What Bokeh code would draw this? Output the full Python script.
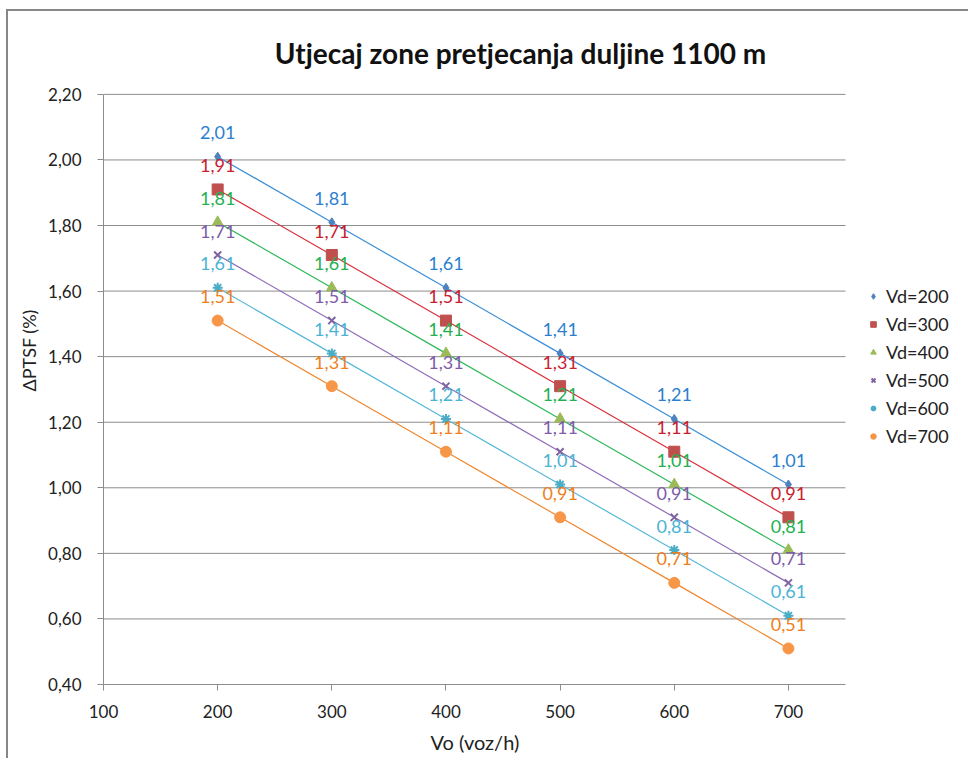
from bokeh.plotting import figure
from bokeh.models import (ColumnDataSource, Legend, LegendItem, FixedTicker, Label, Title)
from bokeh.core.properties import value
from bokeh.embed import file_html
from bokeh.resources import INLINE

# ---- data ----
vo = [200, 300, 400, 500, 600, 700]
series_names = ["Vd=200", "Vd=300", "Vd=400", "Vd=500", "Vd=600", "Vd=700"]
vd200 = [2.01, 1.81, 1.61, 1.41, 1.21, 1.01]
vd300 = [1.91, 1.71, 1.51, 1.31, 1.11, 0.91]
vd400 = [1.81, 1.61, 1.41, 1.21, 1.01, 0.81]
vd500 = [1.71, 1.51, 1.31, 1.11, 0.91, 0.71]
vd600 = [1.61, 1.41, 1.21, 1.01, 0.81, 0.61]
vd700 = [1.51, 1.31, 1.11, 0.91, 0.71, 0.51]
y_ticks = [0.4, 0.6, 0.8, 1.0, 1.2, 1.4, 1.6, 1.8, 2.0, 2.2]
y_tick_labels = ["0,40", "0,60", "0,80", "1,00", "1,20", "1,40", "1,60", "1,80", "2,00", "2,20"]
x_ticks = [100, 200, 300, 400, 500, 600, 700]
x_min, x_max = 100, 750
y_min, y_max = 0.4, 2.2

all_series = [vd200, vd300, vd400, vd500, vd600, vd700]
marker_colors = ["#4F81BD", "#C0504D", "#9BBB59", "#8064A2", "#4BACC6", "#F79646"]
line_colors = ["#3A8ED8", "#D9303C", "#2DB85A", "#8E6CB8", "#55B9D6", "#F0862E"]
label_colors = ["#2C7FD0", "#C8202E", "#22B050", "#7E5CA8", "#4AB4D4", "#EE7F22"]
markers = ["diamond", "square", "triangle", "x", "asterisk", "circle"]
sizes = [9, 11, 11, 10, 10, 11]

FONT = "Lato"

# ---- layout (pixels) ----
OX, OY = 8, 11                      # canvas origin on the page (after chart border)
W, H = 970 - OX, 760 - OY
PLOT_L, PLOT_R, PLOT_T, PLOT_B = 103 - OX, 845 - OX, 94 - OY, 685 - OY
px_x = (x_max - x_min) / (PLOT_R - PLOT_L)
px_y = (y_max - y_min) / (PLOT_B - PLOT_T)
x_end = x_max + (W - PLOT_R) * px_x
y_end = y_max + PLOT_T * px_y

def dx(px):
    return x_min + (px - OX - PLOT_L) * px_x

def dy(py):
    return y_max + (PLOT_T - (py - OY)) * px_y

p = figure(width=W, height=H, output_backend="svg", toolbar_location=None,
           x_range=(x_min, x_end), y_range=(y_min, y_end),
           min_border_left=PLOT_L, min_border_right=0, min_border_top=0,
           min_border_bottom=H - PLOT_B)
p.styles = {"margin-left": f"{OX - 2}px", "margin-top": f"{OY - 2}px",
            "border-top": "2px solid #878787", "border-left": "2px solid #878787"}
p.outline_line_color = None
p.background_fill_color = "white"
p.xgrid.grid_line_color = None
p.ygrid.grid_line_color = None

# horizontal gridlines over the plot area only
grid_ys = [t for t in y_ticks if t > y_min]
p.segment(x0=[x_min] * len(grid_ys), x1=[x_max] * len(grid_ys), y0=grid_ys, y1=grid_ys,
          line_color="#8C8C8C", line_width=1)

# axes
p.yaxis.ticker = FixedTicker(ticks=y_ticks)
p.yaxis.major_label_overrides = {t: l for t, l in zip(y_ticks, y_tick_labels)}
p.xaxis.ticker = FixedTicker(ticks=x_ticks)
p.xaxis.bounds = (x_min, x_max)
p.yaxis.bounds = (y_min, y_max)
for ax in (p.xaxis, p.yaxis):
    ax.axis_line_color = "#8C8C8C"
    ax.major_tick_line_color = "#8C8C8C"
    ax.major_tick_out = 6
    ax.major_tick_in = 0
    ax.minor_tick_line_color = None
    ax.major_label_text_font = FONT
    ax.major_label_text_font_size = "17px"
    ax.major_label_text_color = "#222222"
    ax.axis_label_text_font = FONT
    ax.axis_label_text_font_size = "18px"
    ax.axis_label_text_font_style = "normal"
    ax.axis_label_text_color = "#222222"
p.yaxis.axis_label = "ΔPTSF  (%)"
p.xaxis.major_label_standoff = 14
p.yaxis.major_label_standoff = 16
p.yaxis.axis_label_standoff = 5

# x-axis title, centred under the bounded plot area (drawn as a Title below the axis)
xlabel = Title(text="Vo (voz/h)", align="left", offset=430 - 103, standoff=14,
               text_font=FONT, text_font_size="20px", text_font_style="normal",
               text_color="#222222")
p.add_layout(xlabel, "below")

items = []
for name, ys, mc, lc, tc, mk, sz in zip(series_names, all_series, marker_colors,
                                         line_colors, label_colors, markers, sizes):
    src = ColumnDataSource(dict(x=vo, y=ys, lab=[f"{v:.2f}".replace(".", ",") for v in ys]))
    p.line("x", "y", source=src, line_color=lc, line_width=1.2)
    if mk in ("x", "asterisk"):
        r = p.scatter("x", "y", source=src, marker=mk, size=sz, line_color=mc, line_width=2)
    else:
        r = p.scatter("x", "y", source=src, marker=mk, size=sz, fill_color=mc, line_color=mc)
    p.text("x", "y", text="lab", source=src, text_color=tc, text_font=value(FONT),
           text_font_size="18px", text_align="center", text_baseline="middle", y_offset=-24)
    items.append(LegendItem(label=name, renderers=[r]))

# legend: first glyph row top at y=286 (page px); 6 rows of 22 px + 5 gaps of 6 px
ROW, GAP = 22, 6
leg_h = 6 * ROW + 5 * GAP
legend = Legend(items=items, location=(866 - OX - PLOT_L, PLOT_B - (286 - OY + leg_h)),
                background_fill_alpha=0, border_line_color=None,
                label_text_font=FONT, label_text_font_size="18px",
                label_text_color="#222222", glyph_width=14, glyph_height=ROW,
                label_height=ROW, spacing=GAP, label_standoff=6, padding=0, margin=0)
p.add_layout(legend, "center")

title = Label(x=dx(520), y=dy(53), text="Utjecaj zone pretjecanja duljine 1100 m",
              text_font=FONT, text_font_size="28px", text_font_style="bold",
              text_color="#111111", text_align="center", text_baseline="middle")
p.add_layout(title)

open("out.html", "w").write(file_html(p, INLINE))
